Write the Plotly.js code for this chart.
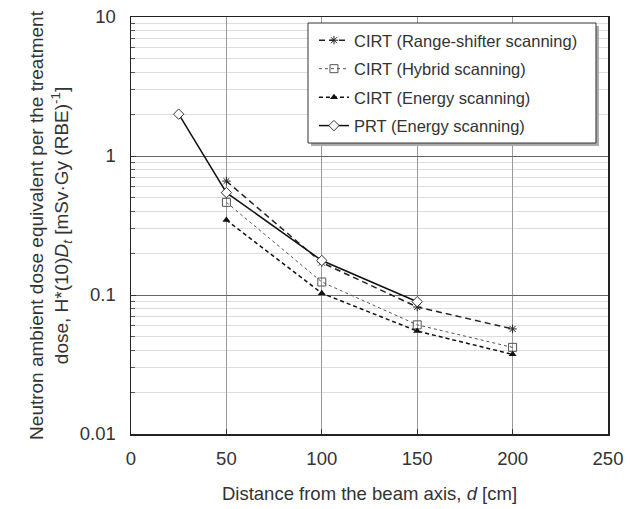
<!DOCTYPE html>
<html><head><meta charset="utf-8">
<script src="https://cdn.plot.ly/plotly-3.0.1.min.js"></script>
<style>body{margin:0;padding:0;}#chart{width:630px;height:509px;}</style>
</head><body><div id="chart"></div>
<script>
const names = ["CIRT (Range-shifter scanning)", "CIRT (Hybrid scanning)", "CIRT (Energy scanning)", "PRT (Energy scanning)"];
const xCirt = [50, 100, 150, 200];
const xPrt = [25, 50, 100, 150];
const rangeShifter = [0.66, 0.171, 0.082, 0.057];
const hybrid = [0.464, 0.124, 0.061, 0.042];
const energy = [0.346, 0.103, 0.055, 0.0374];
const prt = [2.0, 0.545, 0.177, 0.0895];
const yTickVals = [0.01, 0.1, 1, 10];
const yTickText = ["0.01", "0.1", "1", "10"];

const traces = [
  {x: xCirt, y: rangeShifter, name: names[0], legendgroup: "a", mode: "lines+markers",
   line: {color: "#222", width: 1.5, dash: "6px,4px"},
   marker: {symbol: "asterisk-open", size: 7, color: "#222", line: {color: "#222", width: 1}}},
  {x: xCirt, y: hybrid, name: names[1], legendgroup: "b", mode: "lines+markers",
   line: {color: "#555", width: 1, dash: "dot"},
   marker: {symbol: "square-open", size: 8, color: "#555", line: {color: "#555", width: 1}}},
  {x: xCirt, y: energy, name: names[2], legendgroup: "c", mode: "lines+markers",
   line: {color: "#111", width: 1.5, dash: "4px,3px"},
   marker: {symbol: "triangle-up", size: 7, color: "#111"}},
  {x: xPrt, y: prt, name: names[3], legendgroup: "d", mode: "lines+markers",
   line: {color: "#111", width: 1.5},
   marker: {symbol: "diamond", size: 8, color: "#fff", line: {color: "#333", width: 1}}}
];

const layout = {
  width: 630, height: 509,
  margin: {l: 131, r: 22, t: 17, b: 75},
  paper_bgcolor: "#fff", plot_bgcolor: "#fff",
  font: {family: "Liberation Sans, Arial, sans-serif", size: 18, color: "#333"},
  showlegend: true,
  legend: {x: 0.3836, y: 0.9856, xanchor: "left", yanchor: "top",
    bgcolor: "rgba(0,0,0,0)", borderwidth: 0,
    font: {size: 16.5, color: "#333"}, traceorder: "grouped", tracegroupgap: 4, itemwidth: 30},
  xaxis: {range: [0, 250], dtick: 50, tick0: 0, showgrid: true, gridcolor: "#999", gridwidth: 1,
    ticks: "inside", ticklen: 5, tickcolor: "#333", showline: true, linecolor: "#222", linewidth: 1.5, mirror: true,
    zeroline: false, tickfont: {size: 18.5}, ticklabelstandoff: 7,
    title: {text: "Distance from the beam axis, <i>d</i> [cm]", font: {size: 18.5}, standoff: 19}},
  yaxis: {type: "log", range: [-2, 1], tickvals: yTickVals, ticktext: yTickText,
    showgrid: true, gridcolor: "#666", gridwidth: 1,
    ticks: "inside", ticklen: 5, tickcolor: "#333", showline: true, linecolor: "#222", linewidth: 1.5, mirror: true,
    zeroline: false, tickfont: {size: 18.5}, ticklabelstandoff: 10,
    minor: {dtick: "D1", showgrid: true, gridcolor: "#ddd", ticks: "inside", ticklen: 4, tickcolor: "#555"},
    title: {text: "Neutron ambient dose equivalent per the treatment<br>dose, H*(10)<i>D</i><sub><i>t</i></sub> [mSv·Gy (RBE)<sup>-1</sup>]", font: {size: 19}, standoff: 6}},
  shapes: [
    {type: "rect", xref: "paper", yref: "paper", x0: 0.3774, x1: 0.981, y0: 0.6906, y1: 0.9784,
     fillcolor: "#aaa", line: {width: 0}, layer: "above"},
    {type: "rect", xref: "paper", yref: "paper", x0: 0.3711, x1: 0.9748, y0: 0.6978, y1: 0.9856,
     fillcolor: "#fff", line: {color: "#333", width: 1}, layer: "above"}
  ]
};
Plotly.newPlot("chart", traces, layout, {displayModeBar: false, staticPlot: true});
</script></body></html>
